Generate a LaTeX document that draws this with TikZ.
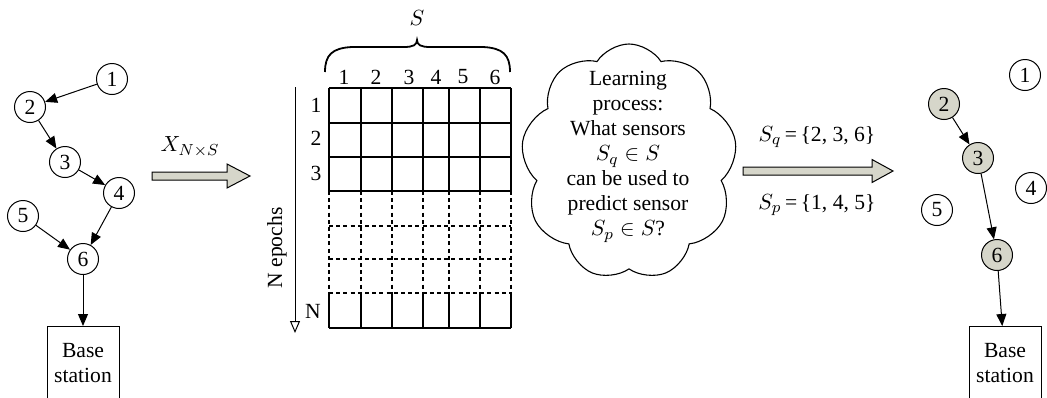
\documentclass[tikz,border=0pt]{standalone}
\usepackage{fontspec}
\setmainfont{Liberation Serif}
\usetikzlibrary{shapes.symbols,arrows.meta}
\definecolor{fillgray}{RGB}{214,214,202}
\tikzset{
  txt/.style={font=\fontsize{10.8}{12.5}\selectfont,inner sep=0pt},
  sensor/.style={circle,draw,line width=0.5pt,minimum size=15.5pt,inner sep=0pt,font=\fontsize{10.8}{11}\selectfont},
  active/.style={sensor,fill=fillgray},
  basebox/.style={draw,line width=0.5pt,minimum width=36pt,minimum height=37pt,anchor=north,align=center,font=\fontsize{10.8}{12.5}\selectfont},
  link/.style={line width=0.5pt,-{Triangle[length=6pt,width=5pt]}},
  blockarrow/.style={draw,line width=0.5pt,fill=fillgray,line join=miter},
  gridline/.style={line width=0.65pt},
  gridd/.style={line width=0.6pt,dash pattern=on 2pt off 1.6pt},
  thought/.style={cloud,draw,line width=0.55pt,cloud puffs=9,cloud puff arc=115,aspect=0.95,minimum width=108pt,minimum height=118pt,inner sep=0pt},
}
\begin{document}
\begin{tikzpicture}[x=0.5pt,y=-0.5pt]
\useasboundingbox (0,0) rectangle (1047,397);
% ---------- left network ----------
\node[sensor] (l1) at (112,79) {1};
\node[sensor] (l2) at (30,107) {2};
\node[sensor] (l3) at (65,162) {3};
\node[sensor] (l4) at (119,193) {4};
\node[sensor] (l5) at (23,216) {5};
\node[sensor] (l6) at (83,259) {6};
\node[basebox] (lbase) at (83,326) {Base\\station};
\draw[link] (l1) -- (l2);
\draw[link] (l2) -- (l3);
\draw[link] (l3) -- (l4);
\draw[link] (l4) -- (l6);
\draw[link] (l5) -- (l6);
\draw[link] (l6) -- (lbase);
% ---------- first block arrow ----------
\draw[blockarrow] (152,172) -- (227,172) -- (227,164) -- (250,176) -- (227,188) -- (227,180) -- (152,180) -- cycle;
\node[txt] (xlab) at (190,147) {$X_{N\times S}$};
% ---------- matrix ----------
\foreach \y in {88,123,157,191} \draw[gridline] (329,\y) -- (511,\y);
\draw[gridline] (329,328) -- (511,328);
\foreach \y in {226,259,293} \draw[gridd] (329,\y) -- (511,\y);
\foreach \x in {329,361,392,423,449,480,511} {
  \draw[gridline] (\x,88) -- (\x,191);
  \draw[gridd] (\x,191) -- (\x,293);
  \draw[gridline] (\x,293) -- (\x,328);
}
\foreach \x/\t in {344/1,376/2,409/3,436/4,463/5,495/6}
  \node[txt] (c\t) at (\x,77) {\t};
\node[txt] (r1) at (316,105) {1};
\node[txt] (r2) at (316,138) {2};
\node[txt] (r3) at (316,173) {3};
\node[txt] (rN) at (313,311) {N};
\draw[line width=0.9pt] (325,72) .. controls (325,55) and (332,48) .. (352,47) -- (404,47)
  .. controls (413,47) and (417,45) .. (417,40) .. controls (417,45) and (421,47) .. (430,47)
  -- (483,47) .. controls (503,48) and (510,55) .. (510,72);
\node[txt] (slab) at (417,18) {$S$};
\coordinate (etop) at (295,87);
\coordinate (ebot) at (295,333);
\draw[line width=0.5pt,-{Triangle[open,length=6pt,width=5pt]}] (etop) -- (ebot);
\node[txt,rotate=90] (epochs) at (277,248) {N epochs};
% ---------- cloud ----------
\node[thought] (learn) at (629,162) {};
\node[txt,align=center] (learntext) at (628,157) {Learning\\process:\\What sensors\\$S_q\in S$\\can be used to\\predict sensor\\$S_p\in S$?};
% ---------- second block arrow ----------
\draw[blockarrow] (743,167) -- (872,167) -- (872,159.5) -- (893,171) -- (872,182.5) -- (872,175) -- (743,175) -- cycle;
\node[txt] (sq) at (817,137) {$S_q$\,=\,\{2, 3, 6\}};
\node[txt] (sp) at (817,205) {$S_p$\,=\,\{1, 4, 5\}};
% ---------- right network ----------
\node[sensor] (r1n) at (1025,75) {1};
\node[active] (r2n) at (944,104) {2};
\node[active] (r3n) at (978,158) {3};
\node[sensor] (r4n) at (1031,188) {4};
\node[sensor] (r5n) at (937,210) {5};
\node[active] (r6n) at (997,255) {6};
\node[basebox] (rbase) at (1005,326) {Base\\station};
\draw[link] (r2n) -- (r3n);
\draw[link] (r3n) -- (r6n);
\draw[link] (r6n) -- (rbase);
\end{tikzpicture}
\end{document}
